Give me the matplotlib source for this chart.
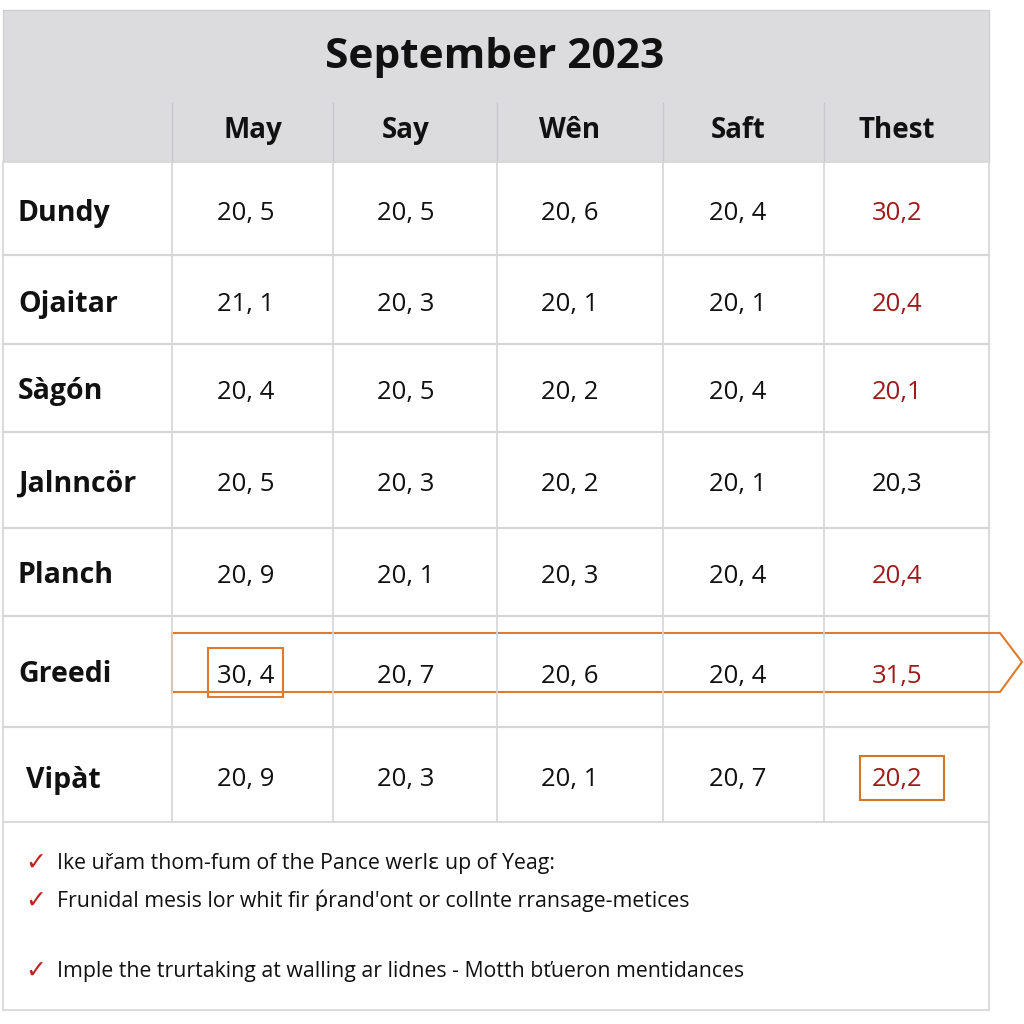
import matplotlib.pyplot as plt
from matplotlib.patches import Rectangle, Polygon

plt.rcParams['font.family'] = ['Open Sans', 'DejaVu Sans']

title = "September 2023"
columns = ["May", "Say", "Wên", "Saft", "Thest"]
rows = ["Dundy", "Ojaitar", "Sàgón", "Jalnncör", "Planch", "Greedi", "Vipàt"]

may = [20.5, 21.1, 20.4, 20.5, 20.9, 30.4, 20.9]
say = [20.5, 20.3, 20.5, 20.3, 20.1, 20.7, 20.3]
wen = [20.6, 20.1, 20.2, 20.2, 20.3, 20.6, 20.1]
saft = [20.4, 20.1, 20.4, 20.1, 20.4, 20.4, 20.7]
thest = [30.2, 20.4, 20.1, 20.3, 20.4, 31.5, 20.2]
thest_red = [True, True, True, False, True, True, True]

notes = [
    "Ike uřam thom-fum of the Pance werlɛ up of Yeag:",
    "Frunidal mesis lor whit fir ṕrand'ont or collnte rransage-metices",
    "Imple the trurtaking at walling ar lidnes - Motth bťueron mentidances",
]

# layout (pixel space)
col_edges = [3, 172, 333, 497, 663, 824, 989]
row_edges = [162, 255, 344, 432, 528, 616, 727, 822]
col_centers = [246, 406, 570, 738, 897]
note_y = [863, 901, 971]

grid = '#d6d6d6'
red = '#9e1b1b'
orange = '#e07a2c'

fig = plt.figure(figsize=(10.24, 10.24), dpi=100)
ax = fig.add_axes([0, 0, 1, 1])
ax.set_xlim(0, 1024)
ax.set_ylim(1024, 0)
ax.axis('off')

# header band
ax.add_patch(Rectangle((3, 10), 986, 152, facecolor='#dcdcdf', edgecolor='#cfcfd2', lw=1))
ax.text(495, 57, title, ha='center', va='center', fontsize=30.5, fontweight='bold', color='#111111')
for i, c in enumerate(columns):
    ax.text(col_centers[i] + (7 if i == 0 else 0), 127, c, ha='center', va='center_baseline',
            fontsize=20, fontweight='bold', color='#111111')
for x in col_edges[1:-1]:
    ax.plot([x, x], [103, 162], color='#c8c8cc', lw=1)

# body grid
ax.add_patch(Rectangle((3, 162), 986, 660, facecolor='white', edgecolor=grid, lw=1.2))
for y in row_edges[1:-1]:
    ax.plot([3, 989], [y, y], color=grid, lw=1.6)
for x in col_edges[1:-1]:
    ax.plot([x, x], [162, 822], color=grid, lw=1.2)

# cells
table = list(zip(may, say, wen, saft, thest))
label_y = [210, 301, 388, 481, 572, 671, 777]
for r, name in enumerate(rows):
    yc = (row_edges[r] + row_edges[r + 1]) / 2
    ax.text(18 if r != 6 else 26, label_y[r], name, ha='left', va='center_baseline', fontsize=20.5,
            fontweight='bold', color='#111111')
    for c, v in enumerate(table[r]):
        sep = ", " if c < 4 else ","
        txt = f"{v:.1f}".replace(".", sep)
        color = red if (c == 4 and thest_red[r]) else '#111111'
        ax.text(col_centers[c], yc + 2, txt, ha='center', va='center_baseline', fontsize=18.5, color=color)

# highlight arrow on Greedi row
ax.add_patch(Polygon([(172, 633), (1000, 633), (1022, 662), (1000, 692), (172, 692)],
                     closed=True, fill=False, edgecolor=orange, lw=1.5))
ax.add_patch(Rectangle((208, 648), 75, 49, fill=False, edgecolor=orange, lw=1.5))
ax.add_patch(Rectangle((860, 756), 84, 44, fill=False, edgecolor='#d0782a', lw=1.5))

# footer notes
ax.add_patch(Rectangle((3, 822), 986, 188, facecolor='white', edgecolor=grid, lw=1.2))
for y, n in zip(note_y, notes):
    ax.text(25, y, "✓", ha='left', va='center', fontsize=18, color='#c0221e',
            family='DejaVu Sans')
    ax.text(57, y, n, ha='left', va='center', fontsize=15.3, color='#111111')

fig.savefig('out.png', dpi=100, facecolor='white')
